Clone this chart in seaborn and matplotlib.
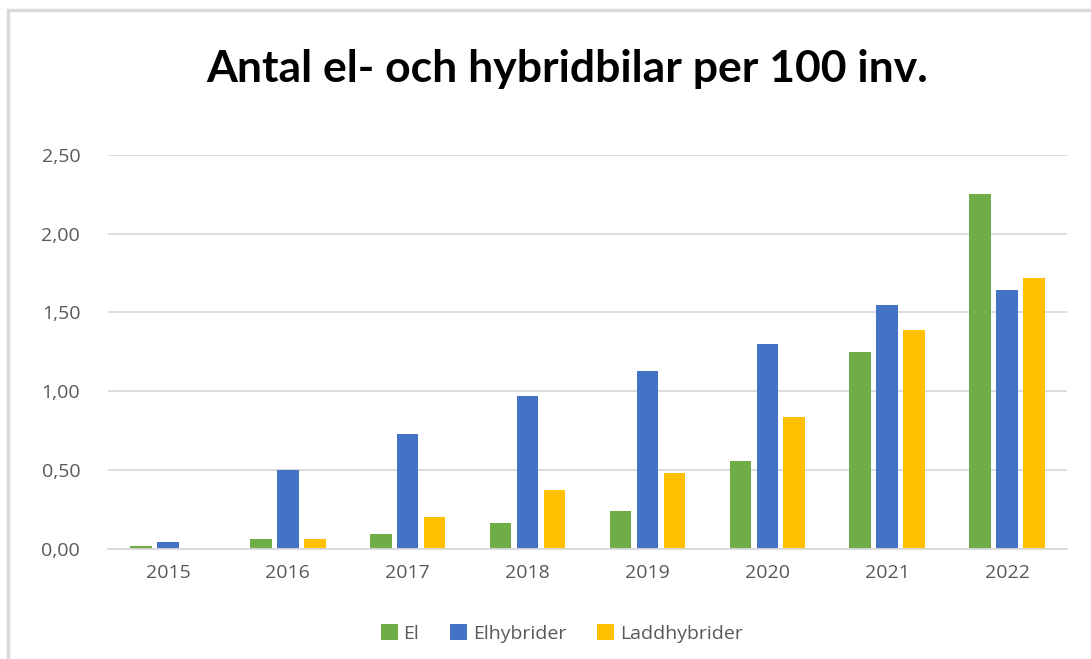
import pandas as pd
import matplotlib.pyplot as plt
import seaborn as sns
from matplotlib.patches import Rectangle

years = ["2015", "2016", "2017", "2018", "2019", "2020", "2021", "2022"]
el = [0.02, 0.065, 0.095, 0.165, 0.24, 0.56, 1.25, 2.25]
elhybrider = [0.045, 0.50, 0.73, 0.97, 1.13, 1.30, 1.55, 1.64]
laddhybrider = [0.0, 0.065, 0.20, 0.375, 0.48, 0.84, 1.39, 1.72]
series = ["El", "Elhybrider", "Laddhybrider"]
yticks = [0.0, 0.5, 1.0, 1.5, 2.0, 2.5]

colors = ["#70AD47", "#4472C4", "#FFC000"]

df = pd.DataFrame({
    "År": years * 3,
    "Typ": [s for s in series for _ in years],
    "Antal": el + elhybrider + laddhybrider,
})

sns.set_theme(style="white")
plt.rcParams["font.family"] = ["Open Sans", "DejaVu Sans"]

fig = plt.figure(figsize=(10.91, 6.59), dpi=100)
ax = fig.add_axes([0.099, 0.167, 0.879, 0.598])

sns.barplot(
    data=df, x="År", y="Antal", hue="Typ", palette=colors, saturation=1,
    width=0.675, gap=0.2, linewidth=0, ax=ax, legend=True,
)

ax.set_ylim(0, 2.5)
ax.set_yticks(yticks)
ax.set_yticklabels([f"{v:.2f}".replace(".", ",") for v in yticks])
ax.set_xlabel("")
ax.set_ylabel("")
ax.yaxis.grid(True, color="#D9D9D9", linewidth=1.3)
ax.set_axisbelow(True)
for side in ["top", "right", "left"]:
    ax.spines[side].set_visible(False)
ax.spines["bottom"].set_color("#D9D9D9")
ax.spines["bottom"].set_linewidth(1.3)
ax.tick_params(axis="both", length=0, labelsize=14, labelcolor="#595959")
ax.tick_params(axis="y", pad=20)
ax.tick_params(axis="x", pad=11)

ax.legend(
    loc="center", bbox_to_anchor=(0.515, 0.039), bbox_transform=fig.transFigure,
    ncol=3, frameon=False, fontsize=14, handlelength=0.85, handleheight=0.85,
    handletextpad=0.3, columnspacing=1.6, labelcolor="#595959",
)

fig.text(0.52, 0.895, "Antal el- och hybridbilar per 100 inv.", ha="center", va="center",
         fontsize=32, fontweight="bold", family=["Lato", "DejaVu Sans"], color="black")

# outer chart frame
fig.patches.append(Rectangle((8 / 1091, -0.2), 1.2, 1.2 - 10 / 659,
                             transform=fig.transFigure, fill=False,
                             edgecolor="#D9D9D9", linewidth=2.5))

fig.savefig("out.png", dpi=100)
